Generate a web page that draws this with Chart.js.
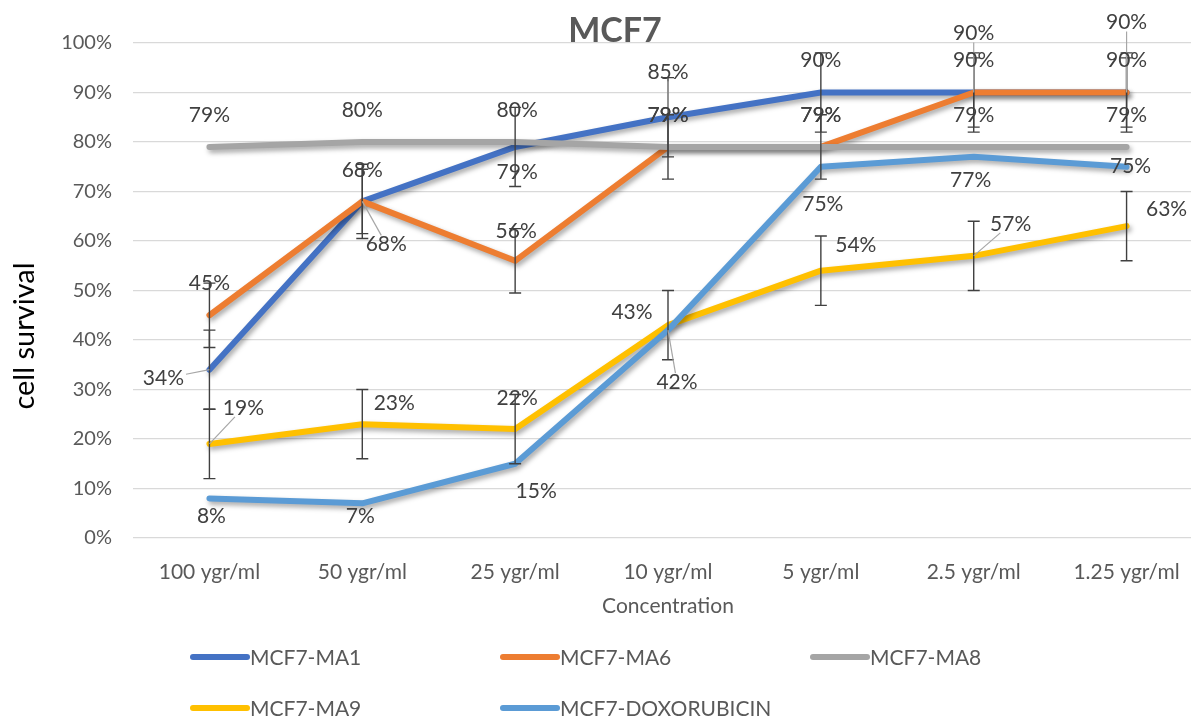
<!DOCTYPE html>
<html>
<head>
<meta charset="utf-8">
<script src="https://cdn.jsdelivr.net/npm/chart.js@4"></script>
<style>
  html, body { margin: 0; padding: 0; background: #fff; overflow: hidden; }
</style>
</head>
<body>
<canvas id="mcf7-chart" width="1205" height="719"></canvas>
<script>
const categories = ['100 ygr/ml', '50 ygr/ml', '25 ygr/ml', '10 ygr/ml', '5 ygr/ml', '2.5 ygr/ml', '1.25 ygr/ml']

const seriesNames = ['MCF7-MA1', 'MCF7-MA6', 'MCF7-MA8', 'MCF7-MA9', 'MCF7-DOXORUBICIN']
const ma1 = [34, 68, 79, 85, 90, 90, 90]
const ma6 = [45, 68, 56, 79, 79, 90, 90]
const ma8 = [79, 80, 80, 79, 79, 79, 79]
const ma9 = [19, 23, 22, 43, 54, 57, 63]
const dox = [8, 7, 15, 42, 75, 77, 75]

// +/- error per point (null = no bar)
const ma1Err = [8, 7.5, 8, 8, 8, 8, 8]
const ma6Err = [6.5, 6.5, 6.5, 6.5, 6.5, 7, 7]
const ma8Err = null
const ma9Err = [7, 7, 7, 7, 7, 7, 7]
const doxErr = null

const yTicks = [0, 10, 20, 30, 40, 50, 60, 70, 80, 90, 100]

const colors = ['#4472C4', '#ED7D31', '#A5A5A5', '#FFC000', '#5B9BD5']

// where each value label sits relative to its point, in px
const labelShift = [
    [[-46, 9], [0, -31], [2, 25], [0, -45], [0, -32], [0, -59], [0, -70]],
    [[0, -32], [24, 43], [1, -30], [0, -32], [0, -32], [0, -32], [0, -32]],
    [[0, -32], [0, -32], [2, -32], [0, -32], [0, -32], [0, -32], [0, -32]],
    [[34, -36], [32, -21], [2, -31], [-36, -13], [35, -25], [37, -32], [40, -17]],
    [[2, 18], [-2, 13], [21, 27], [9, 52], [2, 37], [-3, 23], [4, -1]]
]

const FONT = 'Lato, "Open Sans", sans-serif'

const values = [ma1, ma6, ma8, ma9, dox]
const errors = [ma1Err, ma6Err, ma8Err, ma9Err, doxErr]

const extras = {
    id: 'extras',
    beforeDatasetDraw(chart) {
        const ctx = chart.ctx
        ctx.save()
        ctx.shadowColor = 'rgba(0,0,0,0.35)'
        ctx.shadowBlur = 5
        ctx.shadowOffsetX = 2
        ctx.shadowOffsetY = 3
    },
    afterDatasetDraw(chart) {
        chart.ctx.restore()
    },
    afterDatasetsDraw(chart) {
        const ctx = chart.ctx
        const y = chart.scales.y

        // error bars
        ctx.save()
        ctx.strokeStyle = '#404040'
        ctx.lineWidth = 1.4
        errors.forEach((errs, i) => {
            if (!errs) return
            const meta = chart.getDatasetMeta(i)
            errs.forEach((e, j) => {
                if (e == null) return
                const x = meta.data[j].x
                const top = y.getPixelForValue(values[i][j] + e)
                const bot = y.getPixelForValue(values[i][j] - e)
                ctx.beginPath()
                ctx.moveTo(x, top); ctx.lineTo(x, bot)
                ctx.moveTo(x - 6, top); ctx.lineTo(x + 6, top)
                ctx.moveTo(x - 6, bot); ctx.lineTo(x + 6, bot)
                ctx.stroke()
            })
        })
        ctx.restore()

        // value labels + leader lines
        ctx.save()
        ctx.font = '21px ' + FONT
        ctx.textAlign = 'center'
        ctx.textBaseline = 'middle'
        values.forEach((vals, i) => {
            const meta = chart.getDatasetMeta(i)
            vals.forEach((v, j) => {
                const p = meta.data[j]
                const [dx, dy] = labelShift[i][j]
                const cx = p.x + dx, cy = p.y + dy
                const txt = v + '%'
                if (Math.hypot(dx, dy) > 44) {
                    const hw = ctx.measureText(txt).width / 2 + 2, hh = 9
                    const s = Math.min(dx ? hw / Math.abs(dx) : 1e9, dy ? hh / Math.abs(dy) : 1e9)
                    ctx.strokeStyle = '#A6A6A6'
                    ctx.lineWidth = 1.2
                    ctx.beginPath()
                    ctx.moveTo(p.x, p.y)
                    ctx.lineTo(cx - s * dx, cy - s * dy)
                    ctx.stroke()
                }
                ctx.fillStyle = '#404040'
                ctx.fillText(txt, cx, cy)
            })
        })
        ctx.restore()
    },
    afterDraw(chart) {
        const ctx = chart.ctx
        const area = chart.chartArea
        ctx.save()
        ctx.textAlign = 'center'
        ctx.textBaseline = 'middle'

        ctx.fillStyle = '#595959'
        ctx.font = 'bold 34px ' + FONT
        ctx.fillText('MCF7', 615, 31)

        ctx.font = '21px ' + FONT
        ctx.fillText('Concentration', (area.left + area.right) / 2, 606)

        ctx.save()
        ctx.translate(25, 336)
        ctx.rotate(-Math.PI / 2)
        ctx.fillStyle = '#000'
        ctx.font = '29px ' + FONT
        ctx.fillText('cell survival', 0, 0)
        ctx.restore()

        // legend, 3 columns
        ctx.textAlign = 'left'
        ctx.font = '21px ' + FONT
        ctx.lineCap = 'round'
        seriesNames.forEach((name, i) => {
            const lx = 193 + (i % 3) * 310
            const ly = 657 + Math.floor(i / 3) * 51
            ctx.strokeStyle = colors[i]
            ctx.lineWidth = 6
            ctx.beginPath()
            ctx.moveTo(lx, ly); ctx.lineTo(lx + 54, ly)
            ctx.stroke()
            ctx.fillStyle = '#595959'
            ctx.fillText(name, lx + 57, ly + 1)
        })
        ctx.restore()
    }
}

new Chart(document.getElementById('mcf7-chart'), {
    type: 'line',
    data: {
        labels: categories,
        datasets: values.map((vals, i) => ({
            label: seriesNames[i],
            data: vals,
            borderColor: colors[i],
            backgroundColor: colors[i],
            borderWidth: 6,
            borderCapStyle: 'round',
            borderJoinStyle: 'round',
            pointRadius: 0,
            fill: false,
            tension: 0,
            order: 5 - i
        }))
    },
    options: {
        responsive: false,
        animation: false,
        devicePixelRatio: 1,
        layout: { padding: { top: 43, right: 2, left: 0, bottom: 0 } },
        plugins: {
            legend: { display: false },
            tooltip: { enabled: false },
            title: { display: false }
        },
        scales: {
            x: {
                offset: true,
                grid: { display: false },
                border: { display: false },
                ticks: {
                    color: '#595959',
                    font: { family: FONT, size: 21 },
                    padding: 14,
                    maxRotation: 0,
                    autoSkip: false
                },
                afterFit: s => { s.height = 181 }
            },
            y: {
                min: 0,
                max: 100,
                afterBuildTicks: s => { s.ticks = yTicks.map(v => ({ value: v })) },
                grid: { color: '#D9D9D9', lineWidth: 1.3, drawTicks: false },
                border: { display: false },
                ticks: {
                    color: '#595959',
                    font: { family: FONT, size: 20 },
                    padding: 21,
                    callback: v => v + '%'
                },
                afterFit: s => { s.width = 133 }
            }
        }
    },
    plugins: [extras]
})
</script>
</body>
</html>
